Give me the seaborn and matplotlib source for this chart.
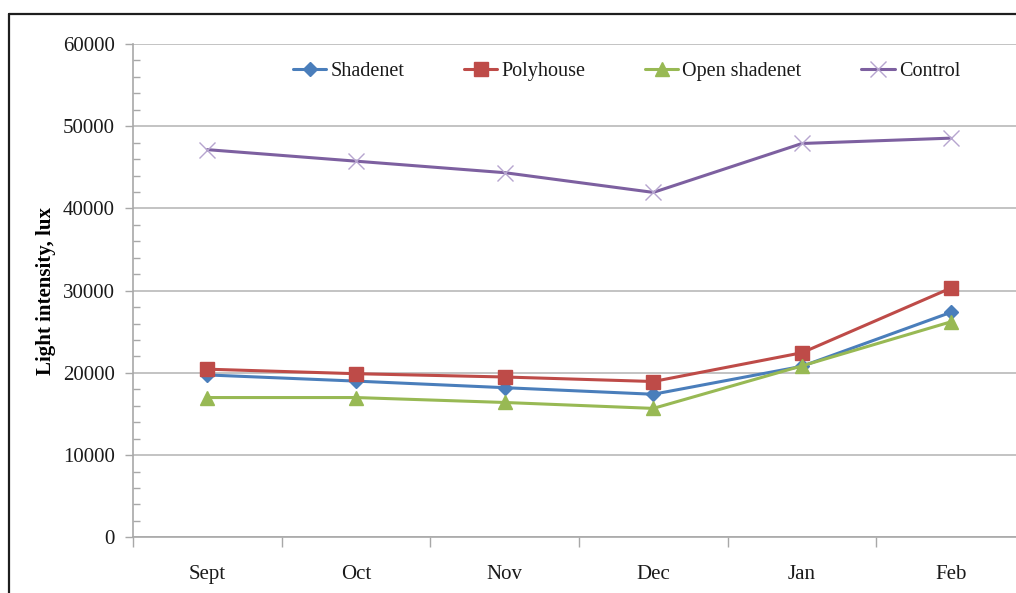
import matplotlib
matplotlib.use("Agg")
import matplotlib.pyplot as plt
from matplotlib.lines import Line2D
from matplotlib.ticker import MultipleLocator, FixedLocator, NullFormatter
import numpy as np
import pandas as pd
import seaborn as sns

months = ["Sept", "Oct", "Nov", "Dec", "Jan", "Feb"]
shadenet = [19750, 19000, 18200, 17400, 20800, 27350]
polyhouse = [20450, 19900, 19500, 18950, 22450, 30300]
open_shadenet = [17000, 17000, 16400, 15680, 20850, 26200]
control = [47150, 45750, 44350, 41950, 47900, 48550]

series = [
    ("Shadenet", shadenet, "#4A7EBB", "D", 7, "#4A7EBB"),
    ("Polyhouse", polyhouse, "#BE4B48", "s", 10, "#BE4B48"),
    ("Open shadenet", open_shadenet, "#98B954", "^", 10, "#98B954"),
    ("Control", control, "#7D60A0", "x", 11, "#B6A5CF"),
]

sns.set_theme(style="white")
plt.rcParams["font.family"] = ["Liberation Serif", "DejaVu Serif"]
plt.rcParams["text.color"] = "#1A1A1A"

fig = plt.figure(figsize=(10.16, 5.93), dpi=100)
ax = fig.add_axes([0.1309, 0.0939, 0.8779, 0.8319])

for name, vals, color, marker, ms, mcolor in series:
    df = pd.DataFrame({"month": months, "lux": vals})
    sns.lineplot(data=df, x="month", y="lux", ax=ax, sort=False, color=color,
                 linewidth=2.2, marker=marker, markersize=ms,
                 markerfacecolor=mcolor, markeredgecolor=mcolor,
                 markeredgewidth=1.0, label=name)

ax.set_xlim(-0.5, len(months) - 0.5)
ax.set_ylim(0, 60000)
ax.yaxis.set_major_locator(MultipleLocator(10000))
ax.yaxis.set_minor_locator(MultipleLocator(2000))
ax.xaxis.set_major_locator(FixedLocator(np.arange(len(months))))
ax.xaxis.set_minor_locator(FixedLocator(np.arange(len(months) + 1) - 0.5))
ax.xaxis.set_minor_formatter(NullFormatter())
ax.set_xticklabels(months)

ax.grid(axis="y", which="major", color="#B9B9B9", linewidth=1.2)
ax.grid(axis="x", visible=False)
ax.set_axisbelow(True)

for side in ("top", "right"):
    ax.spines[side].set_visible(False)
for side in ("left", "bottom"):
    ax.spines[side].set_color("#A8A8A8")
    ax.spines[side].set_linewidth(1.2)

ax.tick_params(axis="y", which="major", direction="out", length=6, width=1.0,
               color="#A8A8A8", labelsize=15, labelcolor="#1A1A1A", pad=7, left=True)
ax.tick_params(axis="y", which="minor", direction="in", length=5, width=1.0,
               color="#A8A8A8", left=True)
ax.tick_params(axis="x", which="major", length=0, labelsize=15,
               labelcolor="#1A1A1A", pad=20)
ax.tick_params(axis="x", which="minor", direction="out", length=7, width=1.0,
               color="#A8A8A8", bottom=True)

ax.set_xlabel("")
ax.set_ylabel("Light intensity, lux", fontsize=15, fontweight="bold",
              color="#000000", labelpad=5)

leg = ax.legend(loc="center left", bbox_to_anchor=(0.1796, 0.945), ncol=4,
                frameon=False, fontsize=14.5, handlelength=1.65,
                handletextpad=0.2, columnspacing=2.97, borderpad=0,
                borderaxespad=0, numpoints=1)
for h in leg.legend_handles:
    h.set_linewidth(2.2)

# outer frame around the chart area
top_y = 1 - 14 / 593
left_x = 8.5 / 1016
fig.add_artist(Line2D([left_x, 1.0], [top_y, top_y], transform=fig.transFigure,
                      color="#1E1E1E", linewidth=1.6))
fig.add_artist(Line2D([left_x, left_x], [0.0, top_y], transform=fig.transFigure,
                      color="#1E1E1E", linewidth=1.6))

fig.savefig("out.png", dpi=100)
